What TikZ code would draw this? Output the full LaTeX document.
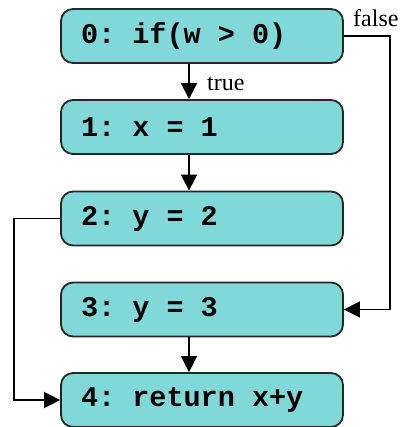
\documentclass[tikz,border=0pt]{standalone}
\usepackage{fontspec}
\setmainfont{Liberation Serif}
\setmonofont{Liberation Mono}
\usetikzlibrary{arrows.meta}
\definecolor{boxfill}{HTML}{80D8D8}
\newcommand\ws{\hspace*{0.6em}}
\tikzset{
  blk/.style={draw=black!85, fill=boxfill, line width=1.8pt, rounded corners=12pt,
    minimum width=282pt, minimum height=54pt, inner xsep=20pt, inner ysep=0pt,
    text width=242pt, align=left,
    font=\ttfamily\bfseries\fontsize{28.5}{30}\selectfont},
  arr/.style={line width=1.6pt, -{Triangle[length=16pt,width=16pt]}},
  lbl/.style={font=\fontsize{24}{26}\selectfont, inner sep=0pt}
}
\begin{document}
\begin{tikzpicture}[x=1pt,y=-1pt]
\useasboundingbox (0,0) rectangle (401,427);
\node[blk] (b0) at (202,36) {0:\ws if(w\ws>\ws0)};
\node[blk] (b1) at (202,127) {1:\ws x\ws=\ws1};
\node[blk] (b2) at (202,218.5) {2:\ws y\ws=\ws2};
\node[blk] (b3) at (202,309.5) {3:\ws y\ws=\ws3};
\node[blk] (b4) at (202,400) {4:\ws return\ws x+y};
\draw[arr] ([xshift=-13pt]b0.south) -- ([xshift=-13pt]b1.north);
\draw[arr] ([xshift=-13pt]b1.south) -- ([xshift=-13pt]b2.north);
\draw[arr] ([xshift=-13pt]b3.south) -- ([xshift=-13pt]b4.north);
\draw[arr] (b0.east) -- ++(46,0) |- (b3.east);
\draw[arr] (b2.west) -- ++(-46,0) |- (b4.west);
\node[lbl, anchor=base west] (tl) at (207,91) {true};
\node[lbl, anchor=base west] (fl) at (353,27) {false};
\end{tikzpicture}
\end{document}
